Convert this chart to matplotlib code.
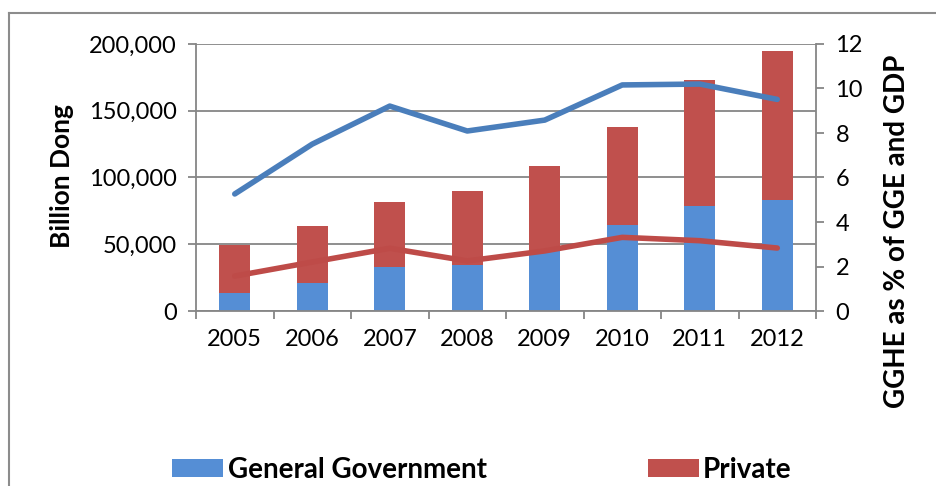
import matplotlib
matplotlib.use("Agg")
import matplotlib.pyplot as plt
from matplotlib.lines import Line2D
from matplotlib.ticker import FuncFormatter

# years on the x axis
years = ["2005", "2006", "2007", "2008", "2009", "2010", "2011", "2012"]
# health expenditure, billion dong
gov = [13300, 21000, 32700, 34700, 45200, 64400, 78700, 83100]
total = [49400, 63900, 81600, 89600, 108600, 137800, 173000, 194500]
private = [t - g for t, g in zip(total, gov)]
# GGHE as % of GGE and of GDP (right axis)
pct_gge = [5.26, 7.5, 9.21, 8.09, 8.58, 10.16, 10.2, 9.51]
pct_gdp = [1.57, 2.2, 2.82, 2.25, 2.7, 3.31, 3.16, 2.83]

plt.rcParams['font.family'] = ['Lato', 'DejaVu Sans']
grey = '#868686'

fig = plt.figure(figsize=(9.37, 4.86), dpi=100)
ax = fig.add_axes([196/937, 1 - 311/486, 620/937, 267/486])

x = list(range(len(years)))
b1 = ax.bar(x, gov, width=0.4, color='#558ED5', zorder=2)
b2 = ax.bar(x, private, width=0.4, bottom=gov, color='#C0504D', zorder=2)

ax.set_xlim(-0.5, len(years) - 0.5)
ax.set_ylim(0, 200000)
ax.set_yticks([0, 50000, 100000, 150000, 200000])
ax.yaxis.set_major_formatter(FuncFormatter(lambda v, p: f"{int(v):,}"))
ax.grid(axis='y', color=grey, linewidth=1.3, zorder=0)
ax.set_axisbelow(True)

# x ticks sit on category boundaries, labels in the middle
ax.set_xticks([i - 0.5 for i in range(len(years) + 1)])
ax.set_xticklabels([])
ax.set_xticks(x, minor=True)
ax.set_xticklabels(years, minor=True)
ax.tick_params(axis='x', which='minor', length=0, pad=13, labelsize=17)
ax.tick_params(axis='x', which='major', length=6, color=grey, width=1.3)
ax.tick_params(axis='y', length=6, color=grey, width=1.3, pad=8, labelsize=17)

for s in ['top', 'right']:
    ax.spines[s].set_visible(False)
for s in ['left', 'bottom']:
    ax.spines[s].set_color(grey)
    ax.spines[s].set_linewidth(1.3)

ax2 = ax.twinx()
ax2.plot(x, pct_gge, color='#4A7EBB', linewidth=4, solid_capstyle='round')
ax2.plot(x, pct_gdp, color='#BE4B48', linewidth=4, solid_capstyle='round')
ax2.set_ylim(0, 12)
ax2.set_yticks([0, 2, 4, 6, 8, 10, 12])
ax2.tick_params(axis='y', length=6, color=grey, width=1.3, pad=8, labelsize=17)
for s in ['top', 'left', 'bottom']:
    ax2.spines[s].set_visible(False)
ax2.spines['right'].set_color(grey)
ax2.spines['right'].set_linewidth(1.3)

# axis titles placed where the original chart has them
fig.text(62/937, 1 - 176/486, 'Billion Dong', rotation=90, fontsize=19,
         fontweight='bold', ha='center', va='center')
fig.text(897/937, 1 - 231/486, 'GGHE as % of GGE and GDP', rotation=90,
         fontsize=20, fontweight='bold', ha='center', va='center')

fig.legend([b1, b2], ['General Government', 'Private'], ncol=2,
           loc='center left', bbox_to_anchor=(172/937, 1 - 469.5/486),
           frameon=False, borderpad=0, borderaxespad=0,
           handlelength=1.85, handleheight=0.6, handletextpad=0.15,
           columnspacing=5.8, prop={'weight': 'bold', 'size': 20})

# outer chart border (only left and top edges are inside the crop)
bx, by = 9/937, 1 - 13/486
fig.add_artist(Line2D([bx, bx], [0, by], transform=fig.transFigure,
                      color='#8c8c8c', linewidth=1.5))
fig.add_artist(Line2D([bx, 1], [by, by], transform=fig.transFigure,
                      color='#8c8c8c', linewidth=1.5))

fig.savefig('out.png', dpi=100)
